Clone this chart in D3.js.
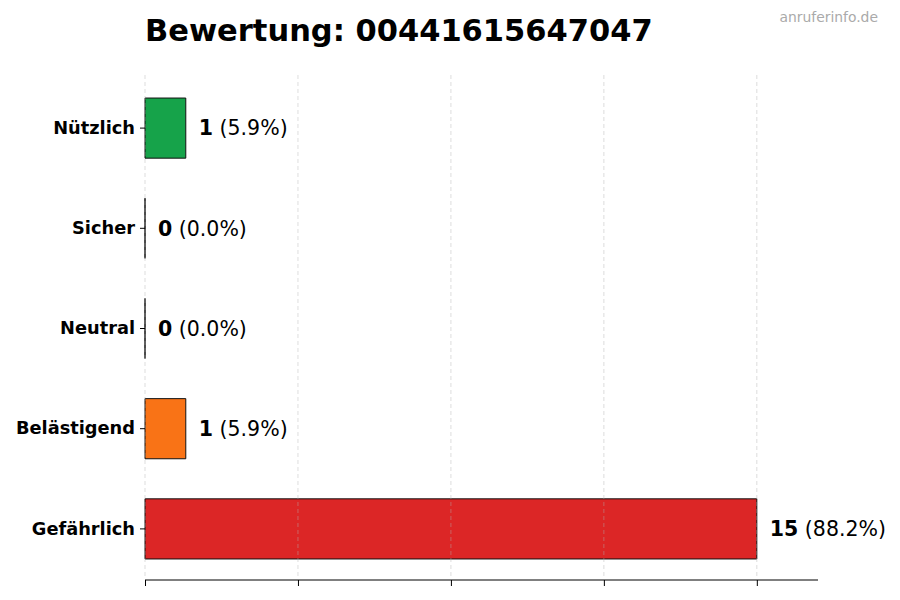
<!DOCTYPE html>
<html><head><meta charset="utf-8">
<script src="https://cdn.jsdelivr.net/npm/d3@7"></script>
<style>body{margin:0;background:#fff}svg{display:block;font-family:"DejaVu Sans",sans-serif}</style>
</head><body><svg id="c" width="900" height="600"></svg>
<script>
const categories = ["Nützlich","Sicher","Neutral","Belästigend","Gefährlich"];
const counts = [1,0,0,1,15];
const percents = ["5.9%","0.0%","0.0%","5.9%","88.2%"];
const colors = ["#16a34a","#9ca3af","#6b7280","#f97316","#dc2626"];
const xTicks = [0,3.75,7.5,11.25,15];
const title = "Bewertung: 00441615647047";
const watermark = "anruferinfo.de";

const svg = d3.select("#c");
const m = {l:145, r:818, t:78, b:579};
const x = d3.scaleLinear().domain([0,16.5]).range([m.l,m.r]);
const y = d3.scaleBand().domain(categories).range([m.t,m.b]).paddingInner(0.4).paddingOuter(0.2);

svg.append("g").selectAll("path").data(categories).join("path")
  .attr("d",(d,i)=>{const x0=x(0),w=x(counts[i])-x(0),y0=y(d),h=y.bandwidth();
     return `M${x0},${y0}h${w}v${h}h${-w}Z`;})
  .attr("fill",(d,i)=>colors[i]).attr("stroke","#111").attr("stroke-width",1);

svg.append("g").selectAll("line").data(xTicks).join("line")
  .attr("x1",d=>x(d)).attr("x2",d=>x(d)).attr("y1",m.t-3).attr("y2",m.b)
  .attr("stroke","#b0b0b0").attr("stroke-opacity",0.55).attr("stroke-width",0.8).attr("stroke-dasharray","4,3");

const lab = svg.append("g").selectAll("text").data(categories).join("text")
  .attr("x",(d,i)=>x(counts[i])+13).attr("y",d=>y(d)+y.bandwidth()/2)
  .attr("dy","0.36em").attr("font-size",20.5).attr("fill","#000");
lab.append("tspan").attr("font-weight","bold").text((d,i)=>counts[i]);
lab.append("tspan").text((d,i)=>" ("+percents[i]+")");

const xa = svg.append("g").attr("transform",`translate(0,${m.b+1})`)
  .call(d3.axisBottom(x).tickValues(xTicks).tickFormat("").tickSize(6).tickSizeOuter(0));
xa.select(".domain").attr("stroke","#000").attr("d",`M${m.l},0H${m.r}`);

const ya = svg.append("g").attr("transform",`translate(${m.l},0)`)
  .call(d3.axisLeft(y).tickSize(5).tickPadding(5));
ya.select(".domain").remove();
ya.selectAll("text").attr("font-size",17.8).attr("font-weight","bold").attr("fill","#000")
  .attr("font-family","DejaVu Sans");

svg.append("text").attr("x",145).attr("y",41).attr("font-size",30.5).attr("font-weight","bold").text(title);
svg.append("text").attr("x",878).attr("y",22).attr("text-anchor","end").attr("font-size",13.9).attr("fill","#aaa").text(watermark);
</script></body></html>
